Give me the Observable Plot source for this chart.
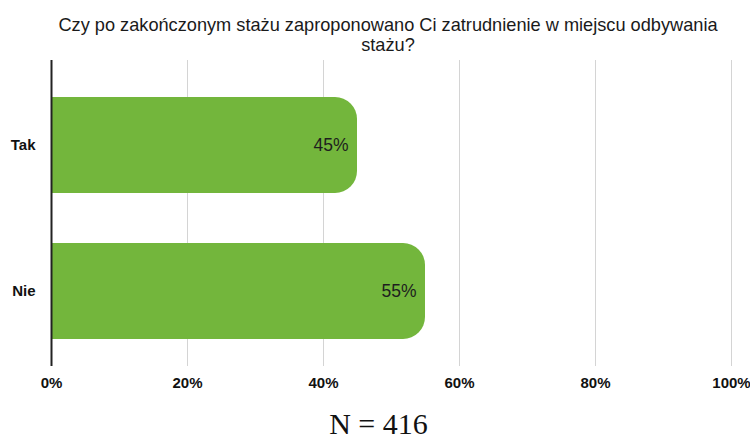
<!DOCTYPE html>
<html>
<head>
<meta charset="utf-8">
<script src="https://cdn.jsdelivr.net/npm/d3@7"></script>
<script src="https://cdn.jsdelivr.net/npm/@observablehq/plot@0.6"></script>
<style>
  html, body { margin: 0; padding: 0; background: #fff; }
  body { width: 750px; height: 439px; overflow: hidden; font-family: "Liberation Sans", Arial, Helvetica, sans-serif; position: relative; }
  #title { position: absolute; left: 38px; top: 15px; width: 700px; text-align: center; font-size: 18.2px; line-height: 20px; color: #1a1a1a; }
  #chart { position: absolute; left: 0; top: 55px; }
  #caption { position: absolute; left: 0; width: 757px; top: 409px; text-align: center; font-family: "Liberation Serif", "Times New Roman", serif; font-size: 30px; line-height: 30px; color: #111; white-space: nowrap; }
</style>
</head>
<body>
<div id="title">Czy po zakończonym stażu zaproponowano Ci zatrudnienie w miejscu odbywania stażu?</div>
<div id="chart"></div>
<div id="caption">N = 416</div>
<script>
const categories = ["Tak", "Nie"];
const values = [45, 55];
const xTicks = [0, 20, 40, 60, 80, 100];
const caption = "N = 416";

const data = categories.map((c, i) => ({category: c, value: values[i]}));
const barColor = "#73b63c";

const chart = Plot.plot({
  width: 750,
  height: 345,
  marginTop: 5,
  marginBottom: 34,
  marginLeft: 51,
  marginRight: 19,
  style: {fontFamily: "'Liberation Sans', Arial, Helvetica, sans-serif", background: "#fff"},
  x: {domain: [0, 100], ticks: xTicks, tickFormat: d => d + "%", grid: false, label: null},
  y: {domain: categories, range: [42, 285], paddingInner: 0.34, paddingOuter: 0, label: null},
  marks: [
    Plot.gridX(xTicks.filter(d => d > 0), {stroke: "#d4d4d4", strokeOpacity: 1, strokeWidth: 1}),
    Plot.barX(data, {x: "value", y: "category", fill: barColor, rx: 22}),
    Plot.barX(data, {x: d => d.value / 2, y: "category", fill: barColor}),
    Plot.text(data, {x: "value", y: "category", text: d => d.value + "%", textAnchor: "end", dx: -9, fontSize: 17.5, fill: "#1e1e1e"}),
    Plot.ruleX([0], {stroke: "#222", strokeWidth: 2}),
    Plot.axisX({ticks: xTicks, tickFormat: d => d + "%", tickSize: 0, tickPadding: 11, fontSize: 15, fontWeight: "bold", fill: "#111", label: null}),
    Plot.axisY({tickSize: 0, tickPadding: 16, fontSize: 15, fontWeight: "bold", fill: "#111", label: null})
  ]
});
document.getElementById("chart").appendChild(chart);
document.getElementById("caption").textContent = caption;
</script>
</body>
</html>
